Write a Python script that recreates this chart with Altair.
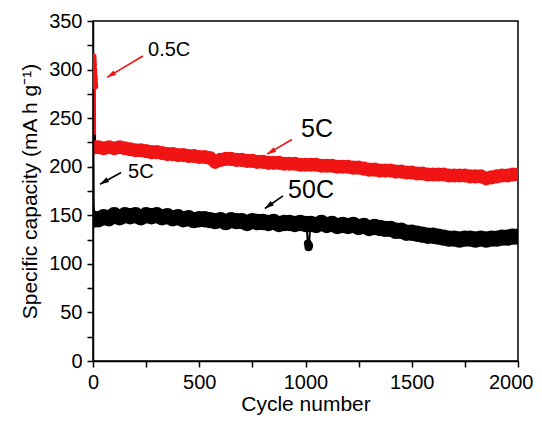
import altair as alt
import pandas as pd

# ---- data ----
red_early_cycle = [1, 2, 3, 4, 5, 6, 7, 8, 9]
red_early_cap = [313, 309, 305, 300, 297, 293, 290, 286, 283]

band_cycle = [10] + list(range(25, 2001, 25))
red_cap = [220,
    220, 219, 220, 219, 220, 219, 218, 217, 217, 216,
    215, 215, 214, 213, 213, 212, 212, 211, 211, 210,
    210, 209, 205, 207, 208, 208, 207, 207, 206, 206,
    205, 205, 204, 204, 204, 203, 203, 203, 202, 202,
    202, 202, 201, 201, 201, 200, 200, 200, 199, 199,
    198, 197, 197, 196, 196, 196, 195, 195, 194, 194,
    193, 193, 192, 192, 192, 192, 191, 191, 191, 191,
    190, 190, 190, 188, 189, 190, 191, 191, 192, 192]
black_cap = [146,
    146, 148, 147, 150, 148, 150, 149, 150, 148, 150,
    149, 150, 148, 149, 147, 148, 146, 147, 145, 146,
    146, 145, 144, 145, 143, 145, 144, 144, 142, 144,
    143, 143, 142, 143, 141, 142, 142, 141, 142, 141,
    141, 140, 142, 140, 141, 139, 140, 139, 140, 138,
    139, 137, 138, 137, 136, 136, 134, 134, 132, 132,
    131, 130, 129, 129, 128, 127, 126, 126, 125, 126,
    126, 125, 126, 125, 126, 126, 127, 127, 128, 128]

black_early_cycle = [1, 3, 10]
black_early_cap = [230, 160, 146]

dip_cycle = [1005, 1011, 1014, 1017, 1022]
dip_cap = [140, 121, 117, 119, 140]

# annotations (label, text position, arrow tail, arrow tip, head angle)
ann_text = ["0.5C", "5C", "5C", "50C"]
ann_tx = [259, 165, 979, 918]
ann_ty = [314, 188, 231, 168]
ann_size = [20, 20, 25, 25]
arr_x1 = [235, 132, 936, 894]
arr_y1 = [314, 194, 228, 170]
arr_x2 = [66, 33, 819, 809]
arr_y2 = [292, 182, 213, 157]
arr_ang = [239, 240, 241, 234]
arr_col = ["#f01414", "#000000", "#f01414", "#000000"]

RED = "#f01414"

red_early = pd.DataFrame({"cycle": red_early_cycle, "cap": red_early_cap})
red_band = pd.DataFrame({"cycle": band_cycle, "cap": red_cap})
black_band = pd.DataFrame({"cycle": band_cycle, "cap": black_cap})
black_early = pd.DataFrame({"cycle": black_early_cycle, "cap": black_early_cap})
dip = pd.DataFrame({"cycle": dip_cycle, "cap": dip_cap})
texts = pd.DataFrame({"t": ann_text, "cycle": ann_tx, "cap": ann_ty, "fs": ann_size})
arrows = pd.DataFrame({"cycle": arr_x1, "cap": arr_y1, "cycle2": arr_x2,
                       "cap2": arr_y2, "ang": arr_ang, "col": arr_col})

xaxis = alt.Axis(values=list(range(0, 2001, 250)),
                 labelExpr="datum.value % 500 == 0 ? datum.label : ''",
                 labelAlign={"condition": {"test": "datum.value == 2000", "value": "right"}, "value": "center"},
                 labelOffset={"condition": {"test": "datum.value == 2000", "value": 15}, "value": 0},
                 title="Cycle number", format="d")
yaxis = alt.Axis(values=list(range(0, 351, 25)),
                 labelExpr="datum.value % 50 == 0 ? datum.label : ''",
                 title="Specific capacity (mA h g⁻¹)", format="d")


def X(field="cycle"):
    return alt.X(f"{field}:Q", scale=alt.Scale(domain=[0, 2000], nice=False, zero=False), axis=xaxis)


def Y(field="cap"):
    return alt.Y(f"{field}:Q", scale=alt.Scale(domain=[0, 350], nice=False), axis=yaxis)


layers = []
# red 0.5C early points and drop
red_e = pd.concat([red_early, red_band.iloc[:1]])
layers.append(alt.Chart(red_e).mark_line(color=RED, strokeWidth=2, clip=True).encode(x=X(), y=Y()))
layers.append(alt.Chart(red_early).mark_point(color=RED, filled=True, size=45, opacity=1, clip=True).encode(x=X(), y=Y()))
# red band
layers.append(alt.Chart(red_band).mark_line(color=RED, strokeWidth=11, clip=True).encode(x=X(), y=Y()))
layers.append(alt.Chart(red_band).mark_point(color=RED, filled=True, size=200, opacity=1, shape="circle", clip=True).encode(x=X(), y=Y()))
# black early
layers.append(alt.Chart(black_early).mark_line(color="black", strokeWidth=2, clip=True).encode(x=X(), y=Y()))
layers.append(alt.Chart(black_early.iloc[:1]).mark_point(color="black", filled=True, size=30, opacity=1, shape="square", clip=True).encode(x=X(), y=Y()))
# black band
layers.append(alt.Chart(black_band).mark_line(color="black", strokeWidth=13, clip=True).encode(x=X(), y=Y()))
layers.append(alt.Chart(black_band).mark_point(color="black", filled=True, size=270, opacity=1, shape="circle", clip=True).encode(x=X(), y=Y()))
# dip
layers.append(alt.Chart(dip).mark_line(color="black", strokeWidth=2, clip=True).encode(x=X(), y=Y()))
layers.append(alt.Chart(dip.iloc[1:4]).mark_point(color="black", filled=True, size=64, opacity=1, shape="circle", clip=True).encode(x=X(), y=Y()))
# arrows
layers.append(alt.Chart(arrows).mark_rule(strokeWidth=1.6).encode(
    x=X(), y=Y(), x2="cycle2:Q", y2="cap2:Q", color=alt.Color("col:N", scale=None)))
layers.append(alt.Chart(arrows).mark_point(shape="M0,0 L-0.6,2 L0.6,2 Z", filled=True, size=81, opacity=1).encode(
    x=X("cycle2"), y=Y("cap2"), angle=alt.Angle("ang:Q", scale=None), color=alt.Color("col:N", scale=None)))
# texts
layers.append(alt.Chart(texts).mark_text(align="left", baseline="alphabetic", font="Liberation Sans", color="black").encode(
    x=X(), y=Y(), text="t:N", size=alt.Size("fs:Q", scale=None)))

chart = alt.layer(*layers).properties(
    width=425, height=340,
    autosize=alt.AutoSizeParams(type="none"),
    padding={"left": 85, "top": 13, "right": 16, "bottom": 55},
    background="white",
).configure_view(stroke="black", strokeWidth=1.5).configure_axis(
    grid=False, domainColor="black", domainWidth=1.5, tickColor="black", tickWidth=1.5,
    tickSize=6, labelFont="Liberation Sans", labelFontSize=20, labelColor="black",
    labelPadding=5, titleFont="Liberation Sans", titleFontSize=21, titleFontWeight="normal",
    titleColor="black",
).configure_axisX(titlePadding=1, labelFlush=False).configure_axisY(titlePadding=8)

chart.save("out.html", embed_options={"renderer": "svg", "actions": False})
